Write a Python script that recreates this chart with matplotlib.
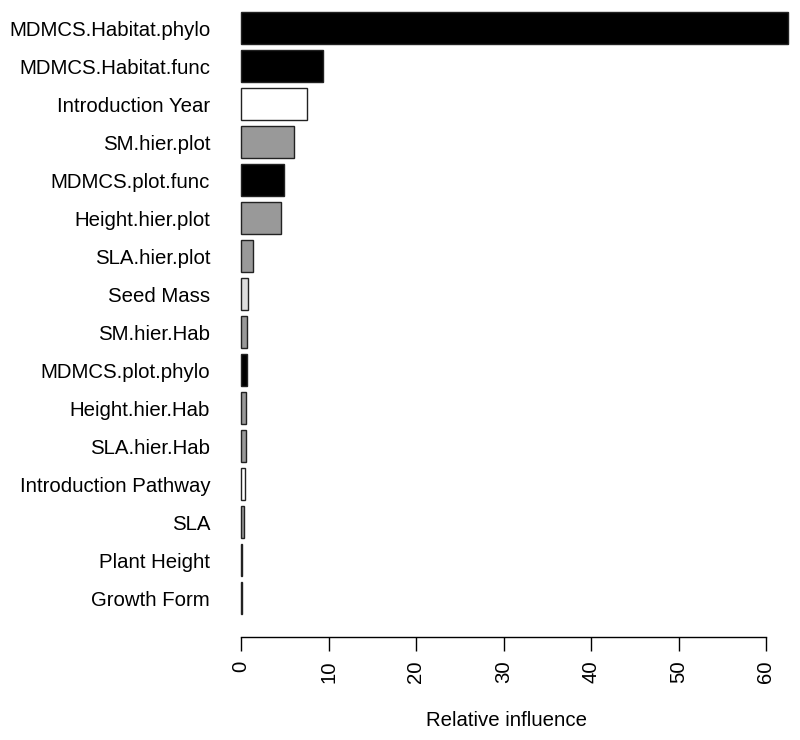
import matplotlib
matplotlib.use("Agg")
import matplotlib.pyplot as plt

plt.rcParams['font.family'] = ['Liberation Sans', 'DejaVu Sans']

variables = ["MDMCS.Habitat.phylo", "MDMCS.Habitat.func", "Introduction Year",
             "SM.hier.plot", "MDMCS.plot.func", "Height.hier.plot", "SLA.hier.plot",
             "Seed Mass", "SM.hier.Hab", "MDMCS.plot.phylo", "Height.hier.Hab",
             "SLA.hier.Hab", "Introduction Pathway", "SLA", "Plant Height", "Growth Form"]
influence = [62.5, 9.4, 7.5, 6.1, 4.9, 4.6, 1.35, 0.8, 0.68, 0.63, 0.57,
             0.55, 0.5, 0.33, 0.15, 0.07]
fills = ["#000000", "#000000", "#ffffff", "#999999", "#000000", "#999999", "#999999",
         "#dddddd", "#999999", "#000000", "#999999", "#999999", "#ffffff", "#999999",
         "#000000", "#999999"]
xticks = [0, 10, 20, 30, 40, 50, 60]

W, H = 800, 740
fig = plt.figure(figsize=(W/100, H/100), dpi=100)
ax_left, ax_right, ax_top, ax_bottom = 213, 800, 0, 637
ax = fig.add_axes([ax_left/W, 1 - ax_bottom/H, (ax_right-ax_left)/W, (ax_bottom-ax_top)/H])

pos = list(range(len(variables)))
ax.barh(pos, influence, height=0.833, color=fills, edgecolor="#222222", linewidth=1.0)

ppu = 8.75
ax.set_xlim(-(241-ax_left)/ppu, (ax_right-241)/ppu)
ax.set_ylim(len(variables) - 1 + 39/38, -28/38)

for s in ["top", "right", "left"]:
    ax.spines[s].set_visible(False)
ax.spines["bottom"].set_bounds(0, 60)
ax.spines["bottom"].set_linewidth(1.0)

fs = 14.7
ax.set_yticks(pos)
ax.set_yticklabels(variables, fontsize=fs)
ax.tick_params(axis="y", length=0, pad=2)

ax.set_xticks(xticks)
ax.set_xticklabels([str(t) for t in xticks], rotation=90, fontsize=fs)
ax.tick_params(axis="x", length=10, width=1.0, pad=7)
ax.set_xlabel("Relative influence", fontsize=fs, labelpad=20)

fig.savefig("out.png", dpi=100)
